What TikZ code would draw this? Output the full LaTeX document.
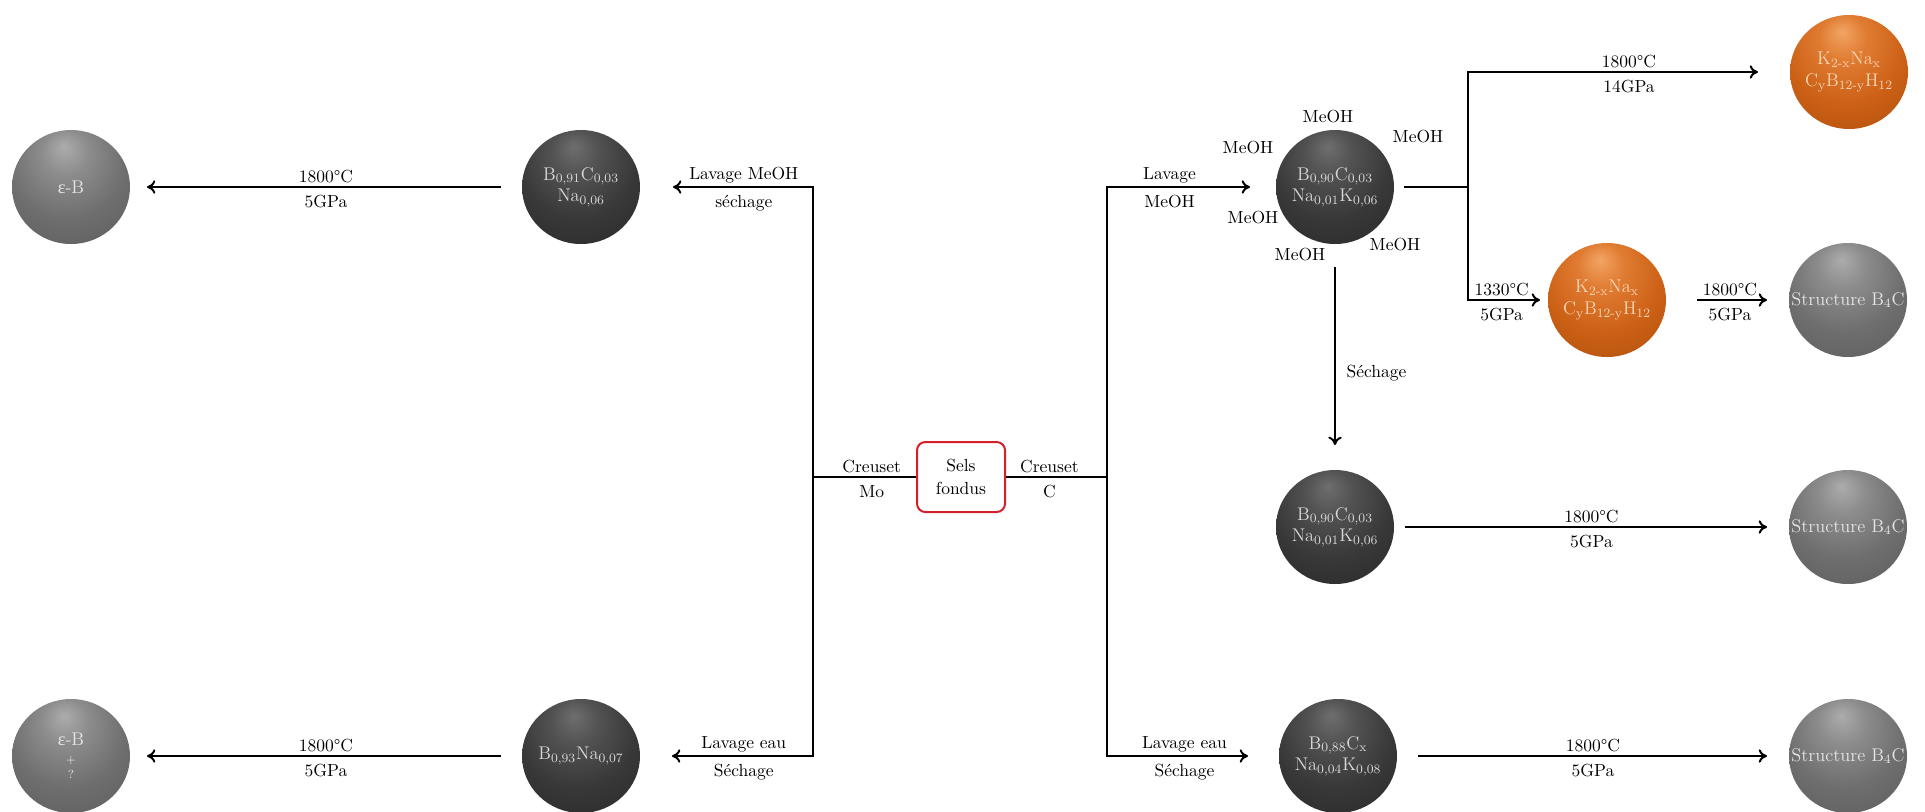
\documentclass[tikz,border=0pt]{standalone}
\usepackage{fontspec}
\usetikzlibrary{arrows.meta,shapes.geometric}
\newfontfamily\grkfont{Liberation Serif}

% sphere palettes
\definecolor{dkA}{HTML}{6E6E6E}
\definecolor{dkB}{HTML}{525252}
\definecolor{dkC}{HTML}{383838}
\definecolor{dkD}{HTML}{262626}
\definecolor{dkE}{HTML}{101010}
\definecolor{gyA}{HTML}{ACACAC}
\definecolor{gyB}{HTML}{8C8C8C}
\definecolor{gyC}{HTML}{6E6E6E}
\definecolor{gyD}{HTML}{595959}
\definecolor{gyE}{HTML}{303030}
\definecolor{orA}{HTML}{F2A464}
\definecolor{orB}{HTML}{E07C32}
\definecolor{orC}{HTML}{CC6116}
\definecolor{orD}{HTML}{AA4A0A}
\definecolor{orE}{HTML}{6A2A02}
\definecolor{dktxt}{HTML}{D8D8D8}
\definecolor{gytxt}{HTML}{E6E6E6}
\definecolor{ortxt}{HTML}{F8D4B4}
\definecolor{boxred}{HTML}{D42028}

\pgfdeclareradialshading{darkball}{\pgfpoint{-3bp}{18bp}}{color(0bp)=(dkA); color(10bp)=(dkB); color(25bp)=(dkC); color(45bp)=(dkD); color(64bp)=(dkE)}
\pgfdeclareradialshading{greyball}{\pgfpoint{-3bp}{18bp}}{color(0bp)=(gyA); color(10bp)=(gyB); color(25bp)=(gyC); color(45bp)=(gyD); color(64bp)=(gyE)}
\pgfdeclareradialshading{orangeball}{\pgfpoint{-3bp}{18bp}}{color(0bp)=(orA); color(10bp)=(orB); color(25bp)=(orC); color(45bp)=(orD); color(64bp)=(orE)}

\tikzset{
  ball/.style={ellipse, minimum width=70.8pt, minimum height=68.4pt,
    inner sep=0pt, outer sep=0pt, shading=#1},
  balltxt/.style={align=center, inner sep=0pt, text=#1,
    font=\fontsize{11}{13}\selectfont},
  conn/.style={line width=1.2pt, line join=miter},
  arr/.style={conn, -{To[length=5pt,width=8pt]}},
  lab above/.style={above, inner sep=2pt},
  lab below/.style={below, inner sep=4.5pt},
  meltbox/.style={draw=boxred, line width=1.2pt, rounded corners=5pt,
    minimum width=52.8pt, minimum height=42pt, align=center, inner sep=2pt},
}

\begin{document}
\begin{tikzpicture}[x=0.6pt, y=-0.6pt, font=\fontsize{10.5}{12.5}\selectfont]
\useasboundingbox (0,0) rectangle (1925,811);

% molten salt starting point
\node[meltbox] (melt) at (961,477) {Sels\\[1pt]fondus};

% junctions of the branching lines
\coordinate (jl)  at (813,477);
\coordinate (jlT) at (813,187);
\coordinate (jlB) at (813,756);
\coordinate (jr)  at (1107,477);
\coordinate (jrT) at (1107,187);
\coordinate (jrB) at (1107,756);
\coordinate (jb)  at (1468,187);
\coordinate (jbT) at (1468,72);
\coordinate (jbB) at (1468,300);

% spheres
\node[ball=greyball]   (eps1) at (71,187)   {};
\node[ball=darkball]   (b91)  at (581,187)  {};
\node[ball=darkball]   (b93)  at (581,756)  {};
\node[ball=greyball]   (eps2) at (71,756)   {};
\node[ball=darkball]   (meoh) at (1335,187) {};
\node[ball=orangeball] (kb1)  at (1849,72)  {};
\node[ball=orangeball] (kb2)  at (1607,300) {};
\node[ball=greyball]   (s1)   at (1848,300) {};
\node[ball=darkball]   (b90)  at (1335,527) {};
\node[ball=greyball]   (s2)   at (1848,527) {};
\node[ball=darkball]   (b88)  at (1338,756) {};
\node[ball=greyball]   (s3)   at (1848,756) {};

% sphere contents
\node[balltxt=gytxt] (eps1t) at (eps1) {{\grkfont ε}-B};
\node[balltxt=dktxt] (b91t) at (b91) {B\textsubscript{0,91}C\textsubscript{0,03}\\Na\textsubscript{0,06}};
\node[balltxt=dktxt] (b93t) at (b93) {B\textsubscript{0,93}Na\textsubscript{0,07}};
\node[balltxt=gytxt] (eps2t) at (eps2) {{\grkfont ε}-B\\[-2pt]{\scriptsize +}\\[-4pt]{\scriptsize ?}};
\node[balltxt=dktxt] (meoht) at (meoh) {B\textsubscript{0,90}C\textsubscript{0,03}\\Na\textsubscript{0,01}K\textsubscript{0,06}};
\node[balltxt=ortxt] (kb1t) at (kb1) {K\textsubscript{2-x}Na\textsubscript{x}\\C\textsubscript{y}B\textsubscript{12-y}H\textsubscript{12}};
\node[balltxt=ortxt] (kb2t) at (kb2) {K\textsubscript{2-x}Na\textsubscript{x}\\C\textsubscript{y}B\textsubscript{12-y}H\textsubscript{12}};
\node[balltxt=gytxt] (s1t) at (s1) {Structure B\textsubscript{4}C};
\node[balltxt=dktxt] (b90t) at (b90) {B\textsubscript{0,90}C\textsubscript{0,03}\\Na\textsubscript{0,01}K\textsubscript{0,06}};
\node[balltxt=gytxt] (s2t) at (s2) {Structure B\textsubscript{4}C};
\node[balltxt=dktxt] (b88t) at (b88) {B\textsubscript{0,88}C\textsubscript{x}\\Na\textsubscript{0,04}K\textsubscript{0,08}};
\node[balltxt=gytxt] (s3t) at (s3) {Structure B\textsubscript{4}C};

% methanol around the washed powder
\node (m1) at (1328,117) {MeOH};
\node (m2) at (1418,137) {MeOH};
\node (m3) at (1248,148) {MeOH};
\node (m4) at (1253,218) {MeOH};
\node (m5) at (1395,245) {MeOH};
\node (m6) at (1300,255) {MeOH};

% crucibles
\draw[conn] (jl) -- node[lab above,pos=.57] (cmo1) {Creuset} node[lab below,pos=.57] (cmo2) {Mo} (melt);
\draw[conn] (melt) -- node[lab above,pos=.43] (cc1) {Creuset} node[lab below,pos=.43] (cc2) {C} (jr);

% Mo crucible branch
\draw[arr, shorten >=19.8pt] (jl) -- (jlT) -- node[lab above,pos=.4] (w1) {Lavage MeOH} node[lab below,pos=.4] (w2) {séchage} (b91);
\draw[arr, shorten >=19.2pt] (jl) -- (jlB) -- node[lab above,pos=.4] (w3) {Lavage eau} node[lab below,pos=.4] (w4) {Séchage} (b93);
\draw[arr, shorten <=12.6pt, shorten >=10.2pt] (b91) -- node[lab above] (h1) {1800\textdegree C} node[lab below] (h2) {5GPa} (eps1);
\draw[arr, shorten <=12.6pt, shorten >=10.2pt] (b93) -- node[lab above] (h3) {1800\textdegree C} node[lab below] (h4) {5GPa} (eps2);

% C crucible branch
\draw[arr, shorten >=15.6pt] (jr) -- (jrT) -- node[lab above,pos=.37] (w5) {Lavage} node[lab below,pos=.37] (w6) {MeOH} (meoh);
\draw[arr, shorten >=18.6pt] (jr) -- (jrB) -- node[lab above,pos=.45] (w7) {Lavage eau} node[lab below,pos=.45] (w8) {Séchage} (b88);

% high pressure treatments
\draw[arr, shorten <=6pt, shorten >=19.2pt] (meoh) -- (jb) -- (jbT) -- node[lab above] (h5) {1800\textdegree C} node[lab below] (h6) {14GPa} (kb1);
\draw[arr, shorten >=4.8pt] (jb) -- (jbB) -- node[lab above,pos=.42] (h7) {1330\textdegree C} node[lab below,pos=.42] (h8) {5GPa} (kb2);
\draw[arr, shorten <=18.6pt, shorten >=13.2pt] (kb2) -- node[lab above,pos=.52] (h9) {1800\textdegree C} node[lab below,pos=.52] (h10) {5GPa} (s1);
\draw[arr, shorten <=13.8pt, shorten >=15pt] (meoh) -- node[right,pos=.57,xshift=3pt] (dry) {Séchage} (b90);
\draw[arr, shorten <=6.6pt, shorten >=13.2pt] (b90) -- node[lab above] (h11) {1800\textdegree C} node[lab below] (h12) {5GPa} (s2);
\draw[arr, shorten <=12.6pt, shorten >=13.2pt] (b88) -- node[lab above] (h13) {1800\textdegree C} node[lab below] (h14) {5GPa} (s3);
\end{tikzpicture}
\end{document}
